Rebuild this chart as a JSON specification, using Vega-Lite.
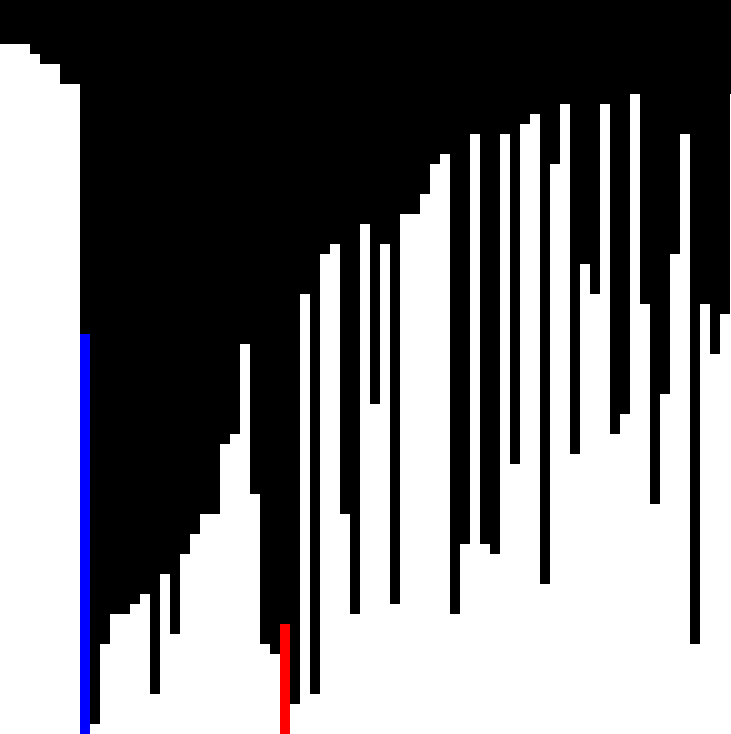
{
  "$schema": "https://vega.github.io/schema/vega-lite/v6.json",
  "width": 731,
  "height": 734,
  "padding": 0,
  "autosize": {"type": "none"},
  "background": "black",
  "config": {"view": {"stroke": null}},
  "data": {
    "values": [
      {"i": 0, "v": 690, "s": "plain"}, {"i": 1, "v": 690, "s": "plain"},
      {"i": 2, "v": 690, "s": "plain"}, {"i": 3, "v": 680, "s": "plain"},
      {"i": 4, "v": 670, "s": "plain"}, {"i": 5, "v": 670, "s": "plain"},
      {"i": 6, "v": 650, "s": "plain"}, {"i": 7, "v": 650, "s": "plain"},
      {"i": 8, "v": 400, "s": "blue"}, {"i": 9, "v": 10, "s": "plain"},
      {"i": 10, "v": 90, "s": "plain"}, {"i": 11, "v": 120, "s": "plain"},
      {"i": 12, "v": 120, "s": "plain"}, {"i": 13, "v": 130, "s": "plain"},
      {"i": 14, "v": 140, "s": "plain"}, {"i": 15, "v": 40, "s": "plain"},
      {"i": 16, "v": 160, "s": "plain"}, {"i": 17, "v": 100, "s": "plain"},
      {"i": 18, "v": 180, "s": "plain"}, {"i": 19, "v": 200, "s": "plain"},
      {"i": 20, "v": 220, "s": "plain"}, {"i": 21, "v": 220, "s": "plain"},
      {"i": 22, "v": 290, "s": "plain"}, {"i": 23, "v": 300, "s": "plain"},
      {"i": 24, "v": 390, "s": "plain"}, {"i": 25, "v": 240, "s": "plain"},
      {"i": 26, "v": 90, "s": "plain"}, {"i": 27, "v": 80, "s": "plain"},
      {"i": 28, "v": 110, "s": "red"}, {"i": 29, "v": 30, "s": "plain"},
      {"i": 30, "v": 440, "s": "plain"}, {"i": 31, "v": 40, "s": "plain"},
      {"i": 32, "v": 480, "s": "plain"}, {"i": 33, "v": 490, "s": "plain"},
      {"i": 34, "v": 220, "s": "plain"}, {"i": 35, "v": 120, "s": "plain"},
      {"i": 36, "v": 510, "s": "plain"}, {"i": 37, "v": 330, "s": "plain"},
      {"i": 38, "v": 490, "s": "plain"}, {"i": 39, "v": 130, "s": "plain"},
      {"i": 40, "v": 520, "s": "plain"}, {"i": 41, "v": 520, "s": "plain"},
      {"i": 42, "v": 540, "s": "plain"}, {"i": 43, "v": 570, "s": "plain"},
      {"i": 44, "v": 580, "s": "plain"}, {"i": 45, "v": 120, "s": "plain"},
      {"i": 46, "v": 190, "s": "plain"}, {"i": 47, "v": 600, "s": "plain"},
      {"i": 48, "v": 190, "s": "plain"}, {"i": 49, "v": 180, "s": "plain"},
      {"i": 50, "v": 600, "s": "plain"}, {"i": 51, "v": 270, "s": "plain"},
      {"i": 52, "v": 610, "s": "plain"}, {"i": 53, "v": 620, "s": "plain"},
      {"i": 54, "v": 150, "s": "plain"}, {"i": 55, "v": 570, "s": "plain"},
      {"i": 56, "v": 630, "s": "plain"}, {"i": 57, "v": 280, "s": "plain"},
      {"i": 58, "v": 470, "s": "plain"}, {"i": 59, "v": 440, "s": "plain"},
      {"i": 60, "v": 630, "s": "plain"}, {"i": 61, "v": 300, "s": "plain"},
      {"i": 62, "v": 320, "s": "plain"}, {"i": 63, "v": 640, "s": "plain"},
      {"i": 64, "v": 430, "s": "plain"}, {"i": 65, "v": 230, "s": "plain"},
      {"i": 66, "v": 340, "s": "plain"}, {"i": 67, "v": 480, "s": "plain"},
      {"i": 68, "v": 600, "s": "plain"}, {"i": 69, "v": 90, "s": "plain"},
      {"i": 70, "v": 430, "s": "plain"}, {"i": 71, "v": 380, "s": "plain"},
      {"i": 72, "v": 420, "s": "plain"}, {"i": 73, "v": 640, "s": "plain"}
    ]
  },
  "mark": {"type": "bar", "strokeWidth": 0, "cornerRadius": 0},
  "encoding": {
    "x": {
      "field": "i",
      "type": "ordinal",
      "axis": null,
      "scale": {"range": [0, 740], "paddingInner": 0, "paddingOuter": 0}
    },
    "y": {
      "field": "v",
      "type": "quantitative",
      "axis": null,
      "scale": {"domain": [0, 734], "nice": false}
    },
    "color": {
      "field": "s",
      "type": "nominal",
      "legend": null,
      "scale": {"domain": ["plain", "blue", "red"], "range": ["#ffffff", "#0000ff", "#ff0000"]}
    }
  }
}
